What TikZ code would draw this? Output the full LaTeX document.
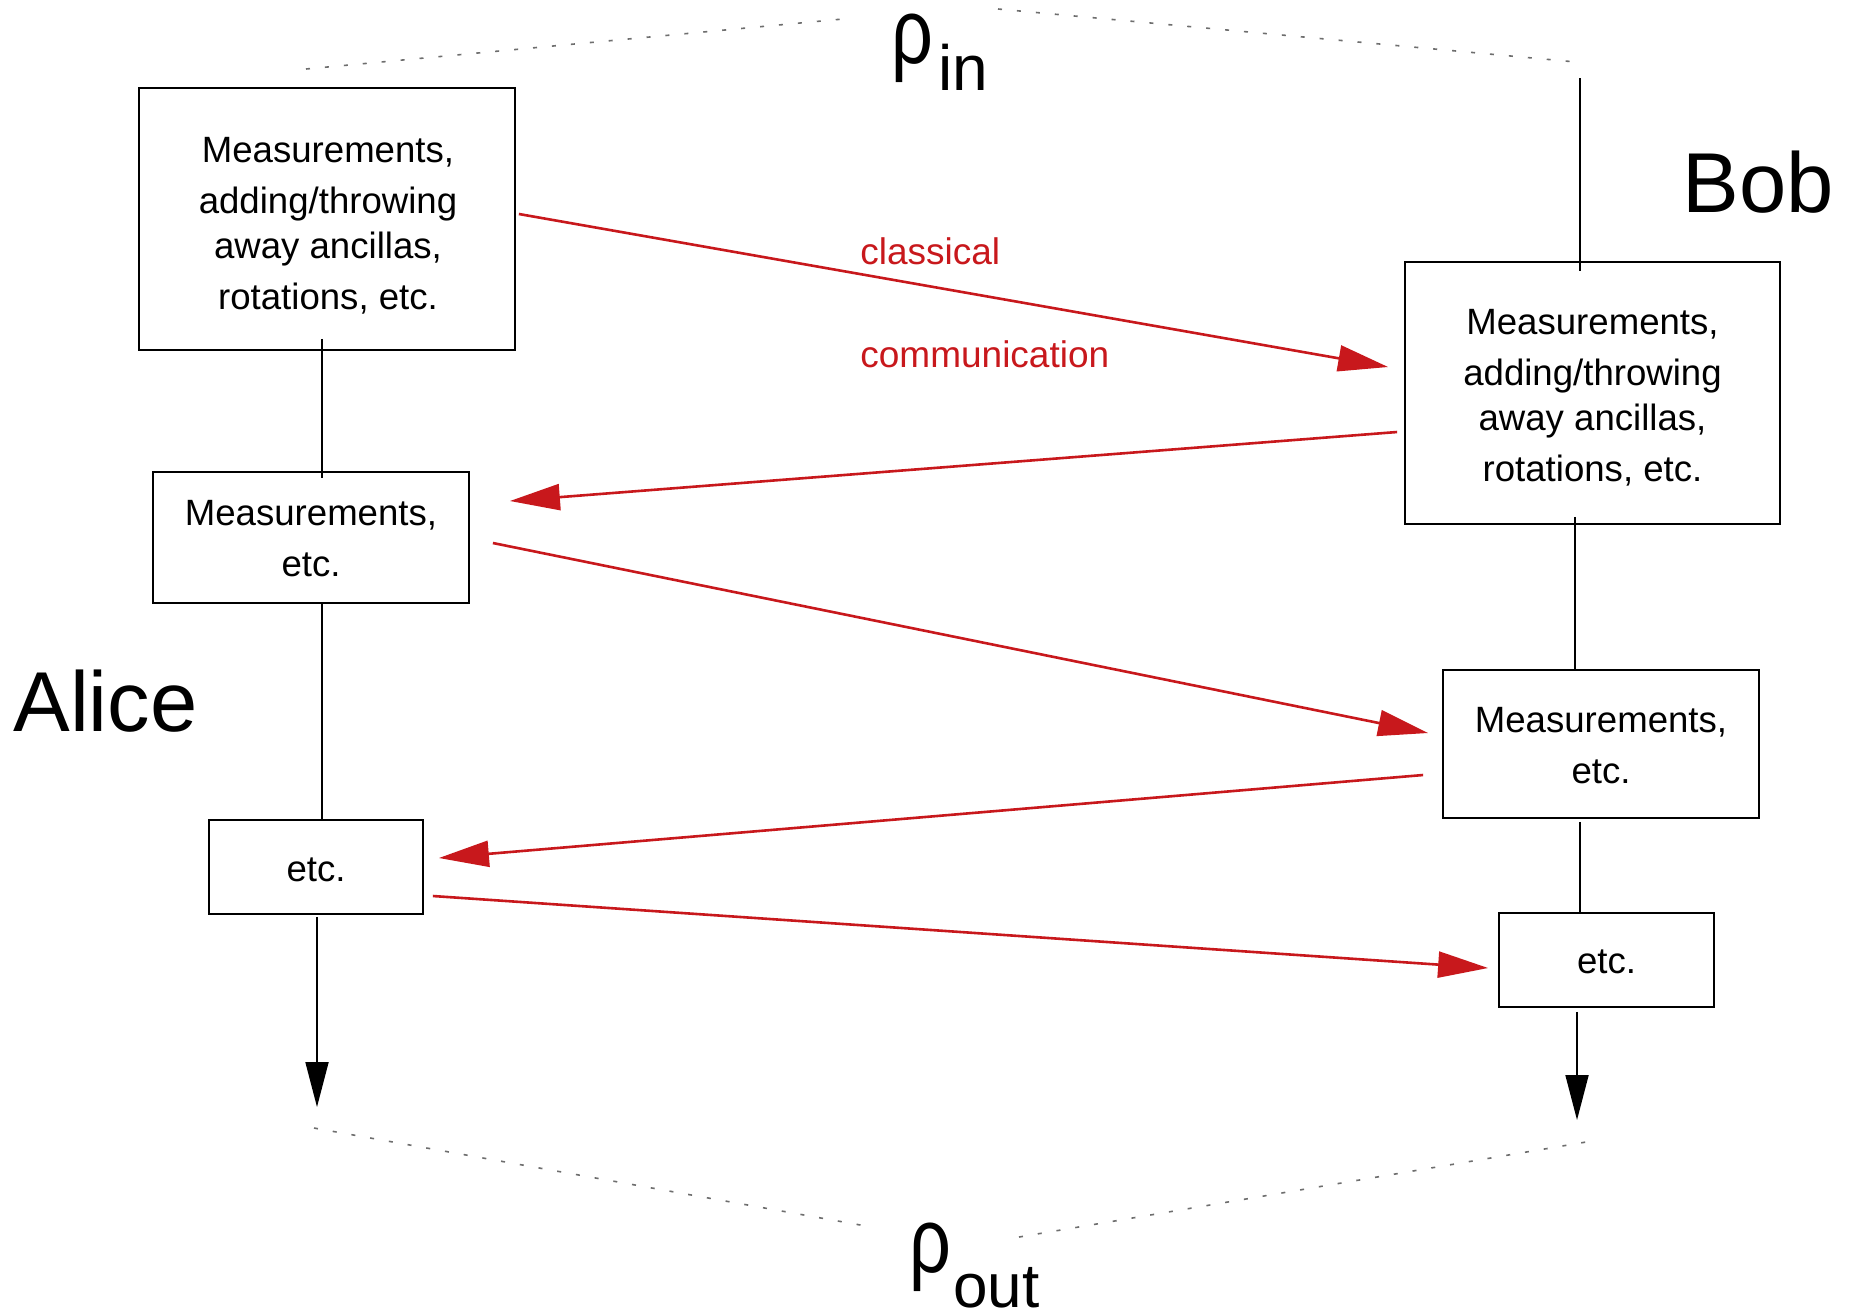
\documentclass[tikz,border=0pt]{standalone}
\usepackage{fontspec}
\usepackage{graphicx}
\setmainfont{Liberation Sans}
\usetikzlibrary{arrows.meta,calc}
\definecolor{cred}{RGB}{200,24,28}
\definecolor{dotgray}{RGB}{110,110,110}
\begin{document}
\begin{tikzpicture}[x=0.5pt,y=-0.5pt,
  box/.style={draw, line width=0.9pt, inner sep=0pt},
  boxtext/.style={align=center, font=\fontsize{18.3pt}{25.5pt}\selectfont, inner sep=0pt},
  vline/.style={line width=0.9pt},
  redarrow/.style={draw=cred, line width=1.3pt, -{Triangle[length=25pt,width=13pt]}},
  blackarrow/.style={line width=0.9pt, -{Triangle[length=22.5pt,width=11.5pt]}},
  dots/.style={draw=dotgray, line width=0.8pt, dash pattern=on 2pt off 7.5pt},
  redlabel/.style={text=cred, font=\fontsize{18.5pt}{18.5pt}\selectfont, inner sep=0pt, anchor=base west},
  biglabel/.style={font=\fontsize{42.5pt}{42.5pt}\selectfont, inner sep=0pt, anchor=base west},
  rholabel/.style={inner sep=0pt, anchor=base west},
]
\useasboundingbox (0,0) rectangle (1856,1313);
\fill[white] (0,0) rectangle (1856,1313);

% boxes
\node[box, minimum width=188pt, minimum height=131pt] (A1) at (327,219) {};
\node[box, minimum width=158pt, minimum height=65.5pt] (A2) at (311,537.5) {};
\node[box, minimum width=107pt, minimum height=47pt] (A3) at (316,867) {};
\node[box, minimum width=187.5pt, minimum height=131pt] (B1) at (1592.5,393) {};
\node[box, minimum width=158pt, minimum height=74pt] (B2) at (1601,744) {};
\node[box, minimum width=107.5pt, minimum height=47pt] (B3) at (1606.5,960) {};

% box texts
\node[boxtext] (A1t) at ($(A1.center)+(1,6.5)$) {Measurements,\\ adding/throwing\\[-3pt] away ancillas,\\ rotations, etc.};
\node[boxtext] (B1t) at ($(B1.center)+(0,5)$) {Measurements,\\ adding/throwing\\[-3pt] away ancillas,\\ rotations, etc.};
\node[boxtext] (A2t) at ($(A2.center)+(0,1.5)$) {Measurements,\\ etc.};
\node[boxtext] (B2t) at ($(B2.center)+(0,2)$) {Measurements,\\ etc.};
\node[boxtext] (A3t) at ($(A3.center)+(0,3)$) {etc.};
\node[boxtext] (B3t) at ($(B3.center)+(0,1.5)$) {etc.};

% labels
\node[biglabel] (alice) at (13,731) {Alice};
\node[biglabel] (bob) at (1682,212) {Bob};
\node[redlabel] (cl) at (860,264) {classical};
\node[redlabel] (comm) at (860,367) {communication};
\node[rholabel] (rhoin) at (891,63) {\smash{\fontsize{46pt}{46pt}\selectfont\scalebox{0.8}[1]{ρ}\kern2.5pt\raisebox{-13.5pt}{\fontsize{32pt}{32pt}\selectfont in}}};
\node[rholabel] (rhoout) at (909,1272) {\smash{\fontsize{46pt}{46pt}\selectfont\scalebox{0.8}[1]{ρ}\kern1pt\raisebox{-17.5pt}{\fontsize{31pt}{31pt}\selectfont out}}};

% free ends
\coordinate (bobIn) at (1580,78);
\coordinate (aliceOut) at (317,1107);
\coordinate (bobOut) at (1577,1120);
\coordinate (dTLa) at (306,69);
\coordinate (dTLb) at (843,19);
\coordinate (dTRa) at (998,9);
\coordinate (dTRb) at (1576,62);
\coordinate (dBLa) at (314,1128);
\coordinate (dBLb) at (866,1226);
\coordinate (dBRa) at (1019,1237);
\coordinate (dBRb) at (1592,1141);

% dotted lines
\draw[dots] (dTLa) -- (dTLb);
\draw[dots] (dTRa) -- (dTRb);
\draw[dots] (dBLa) -- (dBLb);
\draw[dots] (dBRa) -- (dBRb);

% vertical lines
\draw[vline] ($(A1.south)+(-5,-12)$) -- ($(A2.north)+(11,7)$);
\draw[vline] ($(A2.south)+(11,-1)$) -- ($(A3.north)+(6,0)$);
\draw[blackarrow] ($(A3.south)+(1,2)$) -- (aliceOut);
\draw[vline] (bobIn) -- ($(B1.north)+(-12.5,10)$);
\draw[vline] ($(B1.south)+(-17.5,-8)$) -- ($(B2.north)+(-26,1)$);
\draw[vline] ($(B2.south)+(-21,3)$) -- ($(B3.north)+(-26.5,1)$);
\draw[blackarrow] ($(B3.south)+(-29.5,4)$) -- (bobOut);

% red arrows
\draw[redarrow] ($(A1.east)+(3,-5)$) -- ($(B1.west)+(-16,-26)$);
\draw[redarrow] ($(B1.west)+(-7,39)$) -- ($(A2.east)+(40,-36.5)$);
\draw[redarrow] ($(A2.east)+(23,5.5)$) -- ($(B2.west)+(-14,-11)$);
\draw[redarrow] ($(B2.west)+(-19,31)$) -- ($(A3.east)+(15,-9)$);
\draw[redarrow] ($(A3.east)+(9,29)$) -- ($(B3.west)+(-10,8)$);
\end{tikzpicture}
\end{document}
